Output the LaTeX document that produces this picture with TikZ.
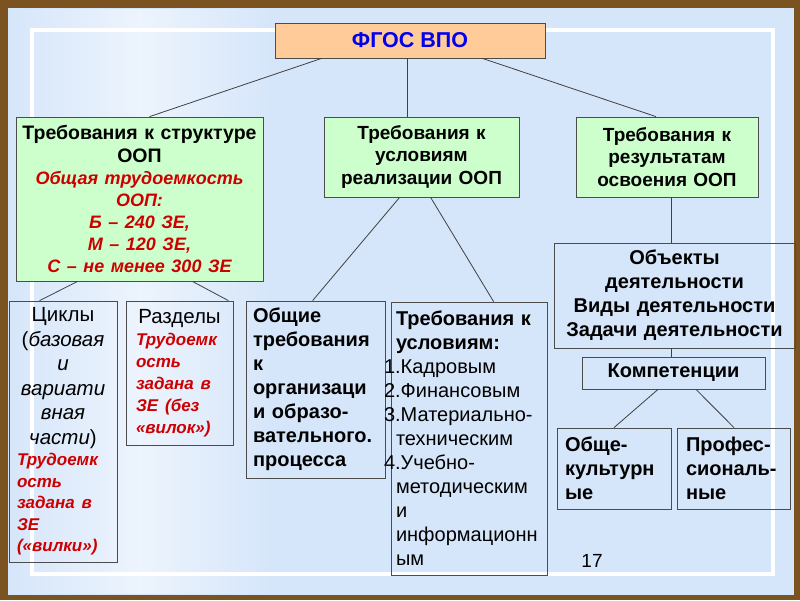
\documentclass[tikz,border=0pt]{standalone}
\usepackage{fontspec}
\setmainfont{Liberation Sans}

\definecolor{framebrown}{HTML}{7A5321}
\definecolor{slideblue}{HTML}{D6E6FA}
\definecolor{boxgreen}{HTML}{CCFFCC}
\definecolor{boxorange}{HTML}{FFCC99}
\definecolor{redtxt}{HTML}{CC0000}
\definecolor{bluetxt}{HTML}{0000EE}

\begin{document}
\begin{tikzpicture}[x=1pt,y=-1pt,
  box/.style={draw=black!70,line width=0.8pt,inner xsep=4pt,inner ysep=0pt},
  link/.style={draw=black!75,line width=0.8pt}]
  \useasboundingbox (0,0) rectangle (800,600);
  % slide background
  \fill[framebrown] (0,0) rectangle (800,600);
  \fill[slideblue] (8,8) rectangle (794,595);
  \shade[left color=slideblue,right color=slideblue,middle color=white!55!slideblue]
    (10,9) rectangle (270,593);
  \draw[white,line width=4pt] (32,30) rectangle (773,574);

  % top level
  \node[box,fill=boxorange,minimum width=270pt,minimum height=35pt,
    font=\fontsize{21.5}{24}\selectfont\bfseries,text=bluetxt] (fgos) at (410,40.5) {ФГОС ВПО};

  \node[box,fill=boxgreen,text width=239pt,minimum height=164pt,align=center,
    font=\fontsize{19.5}{22.5}\selectfont\bfseries] (struct) at (139.5,199)
    {Требования к структуре\\ ООП\par
     {\color{redtxt}\itshape\fontsize{18}{22}\selectfont Общая трудоемкость\\ ООП:\\
      Б – 240 ЗЕ,\\ М – 120 ЗЕ,\\ С – не менее 300 ЗЕ\par}};
  \node[box,fill=boxgreen,text width=187pt,minimum height=80pt,align=center,
    font=\fontsize{19}{22.5}\selectfont\bfseries] (cond) at (421.5,157)
    {Требования к\\ условиям\\ реализации ООП};
  \node[box,fill=boxgreen,text width=174pt,minimum height=80pt,align=center,
    font=\fontsize{19}{22.5}\selectfont\bfseries] (res) at (667,157)
    {Требования к\\ результатам\\ освоения ООП};

  % second level
  \node[box,inner xsep=8pt,text width=92pt,minimum height=261pt,align=center,
    font=\fontsize{20.5}{24.5}\selectfont] (cycles) at (63,431.5)
    {Циклы\\ (\textit{базовая}\\ \textit{и}\\ \textit{вариати}\\ \textit{вная}\\ \textit{части})\par
     \raggedright\color{redtxt}\bfseries\itshape\fontsize{17}{21.5}\selectfont
     Трудоемк\\ ость\\ задана в\\ ЗЕ\\ («вилки»)\par};
  \node[box,inner xsep=10pt,text width=87pt,minimum height=144pt,align=center,
    font=\fontsize{20.5}{24}\selectfont] (parts) at (179.5,373)
    {Разделы\par
     \raggedright\color{redtxt}\bfseries\itshape\fontsize{17}{22}\selectfont
     Трудоемк\\ ость\\ задана в\\ ЗЕ (без\\ «вилок»)\par};
  \node[box,inner xsep=7pt,text width=125pt,minimum height=177pt,align=left,
    font=\fontsize{20}{24}\selectfont\bfseries] (general) at (315.5,389.5)
    {Общие\\ требования\\ к\\ организаци\\ и образо-\\ вательного.\\ процесса};
  \node[box,inner xsep=5pt,text width=146pt,minimum height=273pt,align=left,
    font=\fontsize{20}{24}\selectfont] (condlist) at (469,438.5)
    {\textbf{Требования к}\\ \textbf{условиям:}\\ \hspace*{-12pt}1.Кадровым\\
     \hspace*{-12pt}2.Финансовым\\ \hspace*{-12pt}3.Материально-\\ техническим\\
     \hspace*{-12pt}4.Учебно-\\ методическим\\ и\\ информационн\\ ым};

  \node[box,text width=233pt,minimum height=105pt,align=center,
    font=\fontsize{20}{24}\selectfont\bfseries] (objects) at (674.5,295.5)
    {Объекты\\ деятельности\\ Виды деятельности\\ Задачи деятельности};
  \node[box,text width=175pt,minimum height=32pt,align=center,
    font=\fontsize{20}{24}\selectfont\bfseries] (comp) at (673.5,373)
    {Компетенции};
  \node[box,inner xsep=8pt,text width=98pt,minimum height=81pt,align=left,
    font=\fontsize{20}{24}\selectfont\bfseries] (gencult) at (614,468.5)
    {Обще-\\ культурн\\ ые};
  \node[box,inner xsep=9pt,text width=95pt,minimum height=81pt,align=left,
    font=\fontsize{20}{24}\selectfont\bfseries] (prof) at (733.5,468.5)
    {Профес-\\ сиональ-\\ ные};

  \node[font=\fontsize{19}{24}\selectfont] (pagenum) at (592,561) {17};

  % connectors
  \draw[link] ([xshift=47pt]fgos.south west) -- ([xshift=134pt]struct.north west);
  \draw[link] ([xshift=-3pt]fgos.south) -- ([xshift=-14.5pt]cond.north);
  \draw[link] ([xshift=-63pt]fgos.south east) -- ([xshift=-11pt]res.north);
  \draw[link] ([xshift=62pt]struct.south west) -- ([xshift=31pt]cycles.north west);
  \draw[link] ([xshift=-71pt]struct.south east) -- ([xshift=-5pt]parts.north east);
  \draw[link] ([xshift=76pt]cond.south west) -- ([xshift=67pt]general.north west);
  \draw[link] ([xshift=107pt]cond.south west) -- ([xshift=103pt]condlist.north west);
  \draw[link] ([xshift=4pt]res.south) -- ([xshift=-3.5pt]objects.north);
  \draw[link] ([xshift=-3.5pt]objects.south) -- ([xshift=-2.5pt]comp.north);
  \draw[link] ([xshift=-15.5pt]comp.south) -- (gencult.north);
  \draw[link] ([xshift=22.5pt]comp.south) -- ([xshift=0.5pt]prof.north);
\end{tikzpicture}
\end{document}
